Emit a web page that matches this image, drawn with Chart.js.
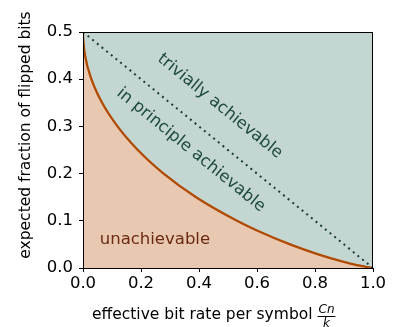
<!DOCTYPE html>
<html>
<head>
<meta charset="utf-8">
<script src="https://cdn.jsdelivr.net/npm/chart.js@4"></script>
<style>
  html, body { margin: 0; padding: 0; background: #fff; }
  #wrap { width: 394px; height: 327px; position: relative; }
</style>
</head>
<body>
<div id="wrap"><canvas id="chart"></canvas></div>
<script>
// values
const rateValues = [0, 0.0003, 0.0012, 0.0072, 0.029, 0.066, 0.119, 0.189, 0.278, 0.390, 0.531, 0.598, 0.714, 0.806, 0.859, 0.919, 0.955, 0.979, 0.989, 1.0];
const flipValues = [0.5, 0.49, 0.48, 0.45, 0.40, 0.35, 0.30, 0.25, 0.20, 0.15, 0.10, 0.08, 0.05, 0.03, 0.02, 0.01, 0.005, 0.002, 0.001, 0];
const trivialRate = [0, 1];
const trivialFlip = [0.5, 0];
const xTicks = [0, 0.2, 0.4, 0.6, 0.8, 1.0];
const yTicks = [0, 0.1, 0.2, 0.3, 0.4, 0.5];

const FONT = 'DejaVu Sans';
const FS = 16.5;
const curvePts = rateValues.map((x, i) => ({ x: x, y: flipValues[i] }));
const trivialPts = trivialRate.map((x, i) => ({ x: x, y: trivialFlip[i] }));

const labelsPlugin = {
    id: 'labels',
    afterDatasetsDraw(chart) {
        const ctx = chart.ctx;
        const xs = chart.scales.x, ys = chart.scales.y;
        const a = chart.chartArea;
        // frame (top / right spines)
        ctx.save();
        ctx.strokeStyle = '#000';
        ctx.lineWidth = 1;
        ctx.strokeRect(a.left + 0.5, a.top + 0.5, a.right - a.left - 1, a.bottom - a.top);
        ctx.restore();

        const ang = Math.atan2(ys.getPixelForValue(0) - ys.getPixelForValue(0.5),
                               xs.getPixelForValue(1) - xs.getPixelForValue(0));
        function rotText(txt, x, y, color) {
            ctx.save();
            ctx.translate(xs.getPixelForValue(x), ys.getPixelForValue(y));
            ctx.rotate(ang);
            ctx.fillStyle = color;
            ctx.font = FS + 'px ' + FONT;
            ctx.textAlign = 'center';
            ctx.textBaseline = 'middle';
            ctx.fillText(txt, 0, 0);
            ctx.restore();
        }
        rotText('trivially achievable', 0.472, 0.343, '#1f4a3f');
        rotText('in principle achievable', 0.372, 0.25, '#1f4a3f');

        ctx.save();
        ctx.fillStyle = '#6b2a10';
        ctx.font = FS + 'px ' + FONT;
        ctx.textAlign = 'center';
        ctx.textBaseline = 'middle';
        ctx.fillText('unachievable', xs.getPixelForValue(0.248), ys.getPixelForValue(0.059));
        ctx.restore();

        // axis titles
        ctx.save();
        ctx.fillStyle = '#000';
        ctx.font = '15.5px ' + FONT;
        ctx.textAlign = 'center';
        ctx.textBaseline = 'middle';
        ctx.translate(26, 135);
        ctx.rotate(-Math.PI / 2);
        ctx.fillText('expected fraction of flipped bits', 0, 0);
        ctx.restore();

        ctx.save();
        ctx.fillStyle = '#000';
        ctx.font = '15.5px ' + FONT;
        ctx.textAlign = 'left';
        ctx.textBaseline = 'alphabetic';
        const main = 'effective bit rate per symbol';
        const w = ctx.measureText(main).width;
        const x0 = 92;
        ctx.fillText(main, x0, 319);
        const fx = x0 + w + 14;
        ctx.font = 'italic 12px ' + FONT;
        ctx.textAlign = 'center';
        ctx.fillText('Cn', fx, 313);
        ctx.fillText('k', fx, 327);
        ctx.fillRect(fx - 9, 316, 18, 1);
        ctx.restore();
    }
};

new Chart(document.getElementById('chart'), {
    type: 'scatter',
    data: {
        datasets: [
            {
                data: curvePts,
                showLine: true,
                borderColor: '#b04a00',
                borderWidth: 2.3,
                backgroundColor: '#e9c8b1',
                fill: 'origin',
                pointRadius: 0,
                cubicInterpolationMode: 'monotone',
                order: 2
            },
            {
                data: curvePts,
                showLine: true,
                borderWidth: 0,
                borderColor: 'rgba(0,0,0,0)',
                backgroundColor: '#c3d6d1',
                fill: 'end',
                pointRadius: 0,
                cubicInterpolationMode: 'monotone',
                order: 3
            },
            {
                data: trivialPts,
                showLine: true,
                borderColor: '#1a3d35',
                borderWidth: 2,
                borderDash: [2, 4],
                fill: false,
                pointRadius: 0,
                order: 1
            }
        ]
    },
    options: {
        responsive: true,
        maintainAspectRatio: false,
        animation: false,
        layout: { padding: { left: 0, top: 32, right: 21, bottom: 0 } },
        plugins: { legend: { display: false }, tooltip: { enabled: false } },
        scales: {
            x: {
                type: 'linear', min: 0, max: 1,
                afterFit: s => { s.height = 59; },
                afterBuildTicks: s => { s.ticks = xTicks.map(v => ({ value: v })); },
                ticks: { color: '#000', font: { family: FONT, size: FS }, padding: 2,
                         callback: v => v.toFixed(1) },
                grid: { drawOnChartArea: false, drawTicks: true, tickLength: 4, color: '#000' },
                border: { display: true, color: '#000', width: 1 }
            },
            y: {
                type: 'linear', min: 0, max: 0.5,
                afterFit: s => { s.width = 83; },
                afterBuildTicks: s => { s.ticks = yTicks.map(v => ({ value: v })); },
                ticks: { color: '#000', font: { family: FONT, size: FS }, padding: 6,
                         callback: v => v.toFixed(1) },
                grid: { drawOnChartArea: false, drawTicks: true, tickLength: 4, color: '#000' },
                border: { display: true, color: '#000', width: 1 }
            }
        }
    },
    plugins: [labelsPlugin]
});
</script>
</body>
</html>
